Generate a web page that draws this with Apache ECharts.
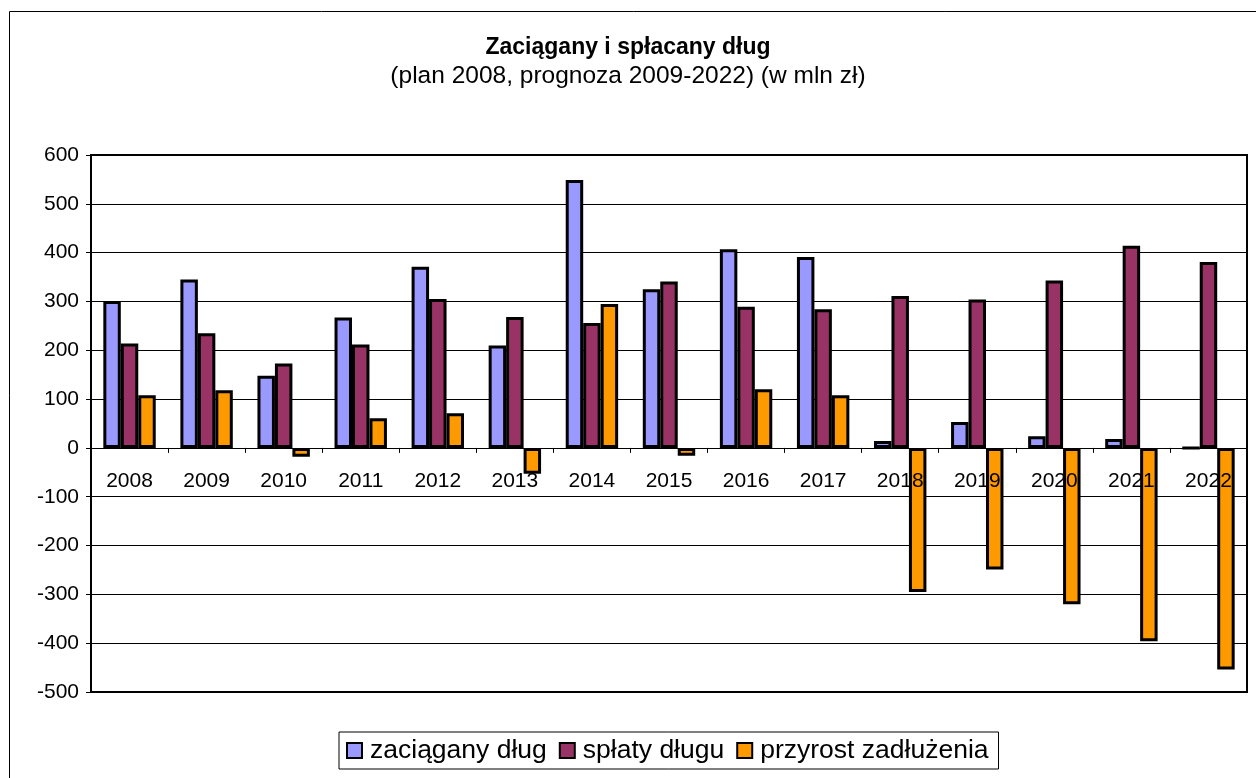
<!DOCTYPE html>
<html>
<head>
<meta charset="utf-8">
<title>Zaciągany i spłacany dług</title>
<script src="https://cdn.jsdelivr.net/npm/echarts@6/dist/echarts.min.js"></script>
<style>
html, body { margin: 0; padding: 0; background: #fff; }
#chart { width: 1256px; height: 778px; }
</style>
</head>
<body>
<div id="chart"></div>
<script>
// lata (kategorie osi X)
var years = ['2008', '2009', '2010', '2011', '2012', '2013', '2014', '2015',
	'2016', '2017', '2018', '2019', '2020', '2021', '2022'];
// wartości w mln zł
var zaciagany = [301, 345, 148, 267, 371, 210, 549, 325, 407, 391, 14, 53, 24, 18, 0];
var splaty = [214, 235, 173, 212, 305, 268, 256, 341, 289, 284, 311, 304, 343, 414, 381];
var przyrost = [108, 118, -18, 61, 71, -53, 295, -16, 120, 108, -295, -249, -320, -396, -454];
var seriesNames = ['zaciągany dług', 'spłaty długu', 'przyrost zadłużenia'];
var yTicks = { min: -500, max: 600, step: 100 };

var font = 'Liberation Sans, Arial, sans-serif';
var myChart = echarts.init(document.getElementById('chart'));

function barSeries(name, data, color) {
	return {
		name: name,
		type: 'bar',
		data: data,
		barGap: '0%',
		barCategoryGap: '32%',
		itemStyle: { color: color, borderColor: '#000', borderWidth: 3 },
		emphasis: { disabled: true }
	};
}

var option = {
	animation: false,
	backgroundColor: '#fff',
	graphic: [{
		type: 'rect',
		shape: { x: 9.5, y: 11.5, width: 1260, height: 780 },
		style: { fill: 'none', stroke: '#000', lineWidth: 1 },
		silent: true
	}],
	title: {
		text: 'Zaciągany i spłacany dług',
		subtext: '(plan 2008, prognoza 2009-2022) (w mln zł)',
		left: 'center',
		top: 31,
		itemGap: 5,
		textStyle: { fontFamily: font, fontSize: 23, fontWeight: 'bold', color: '#000' },
		subtextStyle: { fontFamily: font, fontSize: 24.5, color: '#000' }
	},
	legend: {
		data: seriesNames,
		left: 339,
		top: 732,
		icon: 'rect',
		itemWidth: 15,
		itemHeight: 15,
		itemGap: 12,
		padding: [5, 10, 5, 7],
		borderColor: '#000',
		borderWidth: 1,
		textStyle: { fontFamily: font, fontSize: 26.5, color: '#000', padding: [0, 0, 0, 3] },
		itemStyle: { borderColor: '#000', borderWidth: 2 }
	},
	grid: {
		left: 91,
		right: 9,
		top: 155,
		bottom: 86,
		show: true,
		borderColor: '#000',
		borderWidth: 2,
		containLabel: false
	},
	xAxis: {
		type: 'category',
		data: years,
		z: 5,
		axisLine: { onZero: true, lineStyle: { color: '#000', width: 1 } },
		axisTick: { show: true, length: 5, lineStyle: { color: '#000' } },
		// etykiety lat pod linią zera, a nie na dole siatki
		axisLabel: { fontFamily: font, fontSize: 21, color: '#000', margin: -221 },
		splitLine: { show: false }
	},
	yAxis: {
		type: 'value',
		min: yTicks.min,
		max: yTicks.max,
		interval: yTicks.step,
		axisLine: { show: true, lineStyle: { color: '#000', width: 2 } },
		axisTick: { show: true, length: 5, lineStyle: { color: '#000' } },
		axisLabel: { fontFamily: font, fontSize: 21, color: '#000', margin: 12 },
		splitLine: { show: true, lineStyle: { color: '#000', width: 1 } }
	},
	series: [
		barSeries(seriesNames[0], zaciagany, '#9999FF'),
		barSeries(seriesNames[1], splaty, '#993366'),
		barSeries(seriesNames[2], przyrost, '#FF9900')
	]
};

myChart.setOption(option);
</script>
</body>
</html>
